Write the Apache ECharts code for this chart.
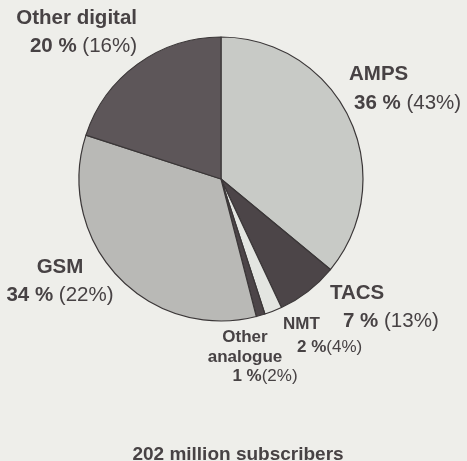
<!DOCTYPE html>
<html>
<head>
<meta charset="utf-8">
<script src="https://cdn.jsdelivr.net/npm/echarts@6/dist/echarts.min.js"></script>
<style>
html,body{margin:0;padding:0;background:#eeeeea;}
#c{width:467px;height:461px;}
</style>
</head>
<body>
<div id="c"></div>
<script>
// Data
const names = ['AMPS', 'TACS', 'NMT', 'Other\nanalogue', 'GSM', 'Other digital'];
const share = [36, 7, 2, 1, 34, 20];
const prevShare = [43, 13, 4, 2, 22, 16];
const title = '202 million subscribers';

// Styles
const colors = ['#c8cac6', '#4c4548', '#e3e5e1', '#4c4548', '#b9b9b6', '#5d5659'];
const textColor = '#474244';
const FONT = '"Liberation Sans", Arial, sans-serif';
const big = [true, true, false, false, true, true];
// label placement: [x, y(top), align, valuePadLeft, lineHeight]
const layout = [
  [349, 60, 'left', 5, 29],
  [330, 279, 'left', 13, 28],
  [283, 313, 'left', 14, 23],
  [245, 328, 'center', 40, 19.5],
  [60, 253, 'center', 0, 28],
  [137, 4, 'right', 0, 28]
];

function richFor(i) {
  const fs = big[i] ? 20.5 : 17;
  const lh = layout[i][4];
  const pad = layout[i][3];
  return {
    n: {fontFamily: FONT, fontWeight: 'bold', fontSize: fs, lineHeight: lh, color: textColor},
    b: {fontFamily: FONT, fontWeight: 'bold', fontSize: fs, lineHeight: lh, color: textColor, padding: [0, 0, 0, pad]},
    r: {fontFamily: FONT, fontWeight: 'normal', fontSize: fs, lineHeight: lh, color: textColor}
  };
}

const data = names.map((n, i) => {
  const nameTxt = n.split('\n').map(s => '{n|' + s + '}').join('\n');
  const sep = big[i] ? ' ' : '';
  return {
    name: n,
    value: share[i],
    itemStyle: {color: colors[i]},
    label: {
      formatter: nameTxt + '\n{b|' + share[i] + ' %}{r|' + sep + '(' + prevShare[i] + '%)}',
      rich: richFor(i)
    }
  };
});

const chart = echarts.init(document.getElementById('c'), null, {renderer: 'canvas'});
chart.setOption({
  animation: false,
  backgroundColor: '#eeeeea',
  title: {
    text: title,
    left: 233,
    textAlign: 'center',
    top: 440,
    textStyle: {fontFamily: FONT, fontWeight: 'bold', fontSize: 19, color: textColor}
  },
  series: [{
    type: 'pie',
    center: [221, 179],
    radius: [0, 142],
    startAngle: 90,
    clockwise: true,
    avoidLabelOverlap: false,
    emphasis: {disabled: true},
    itemStyle: {borderColor: '#3b3738', borderWidth: 1.2},
    label: {show: true, position: 'outside'},
    labelLine: {show: false},
    labelLayout: function (p) {
      const L = layout[p.dataIndex];
      return {x: L[0], y: L[1], align: L[2], verticalAlign: 'top'};
    },
    data: data
  }]
});
</script>
</body>
</html>
